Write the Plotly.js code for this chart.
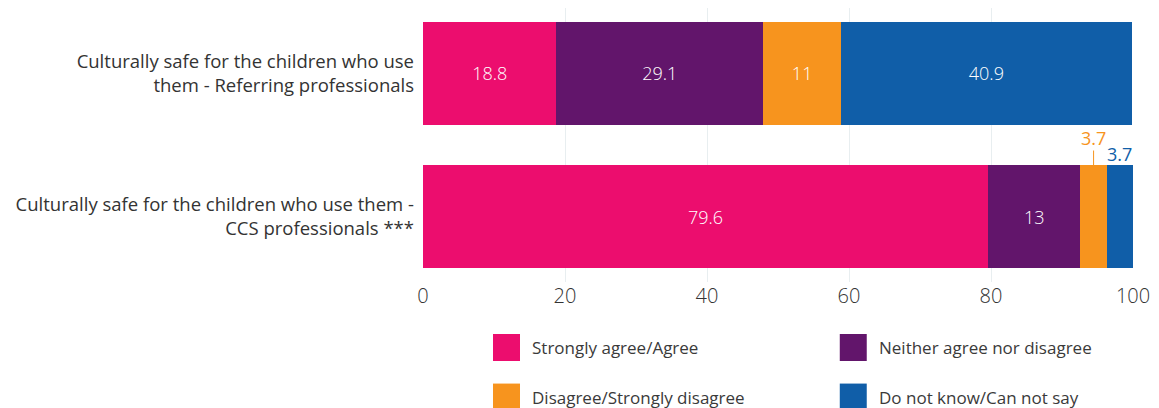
<!DOCTYPE html>
<html>
<head>
<meta charset="utf-8">
<script src="https://cdn.plot.ly/plotly-3.0.1.min.js"></script>
<style>html,body{margin:0;padding:0;background:#fff;}#chart{width:1159px;height:408px;}</style>
</head>
<body>
<div id="chart"></div>
<script>
const categories = [
  "Culturally safe for the children who use<br>them - Referring professionals",
  "Culturally safe for the children who use them -<br>CCS professionals ***"
];
const seriesNames = ["Strongly agree/Agree", "Neither agree nor disagree", "Disagree/Strongly disagree", "Do not know/Can not say"];
const seriesColors = ["#EC0D6E", "#62156B", "#F7941E", "#105EA8"];
const agreeValues = [18.8, 79.6];
const neitherValues = [29.1, 13];
const disagreeValues = [11, 3.7];
const dontKnowValues = [40.9, 3.7];
const xTicks = [0, 20, 40, 60, 80, 100];

const allValues = [agreeValues, neitherValues, disagreeValues, dontKnowValues];
const FONT = "Open Sans, Lato, sans-serif";
const BARWIDTH = 0.72;
const SMALL = 5; // segments narrower than this get an outside label

const traces = allValues.map((vals, i) => ({
  type: "bar",
  orientation: "h",
  name: seriesNames[i],
  y: categories,
  x: vals,
  width: BARWIDTH,
  marker: {color: seriesColors[i]},
  text: vals.map(v => v < SMALL ? "" : String(v)),
  textposition: "inside",
  insidetextanchor: "middle",
  textangle: 0,
  textfont: {family: FONT, size: 18, color: "#ffffff", weight: 300},
  hoverinfo: "x+name",
  showlegend: false
}));

// outside labels for small segments with leader lines
const annotations = [];
const offsets = [-27, -11];
let smallCount = 0;
categories.forEach((cat, ci) => {
  let cum = 0;
  allValues.forEach((vals, si) => {
    const v = vals[ci];
    if (v < SMALL) {
      annotations.push({
        x: cum + v / 2, y: ci - BARWIDTH / 2, xref: "x", yref: "y",
        text: String(v), showarrow: true, arrowhead: 0, arrowwidth: 1,
        arrowcolor: seriesColors[si], ax: 0, ay: offsets[smallCount % offsets.length],
        font: {family: FONT, size: 18, color: seriesColors[si], weight: 400},
        xanchor: "center", yanchor: "middle", borderpad: 0
      });
      smallCount++;
    }
    cum += v;
  });
});

// custom legend (2 x 2)
const shapes = [];
const legCols = [0.0986, 0.587];
const legRows = [-0.239, -0.42];
const swW = 0.038, swH = 0.0493, txtOff = 0.0524;
seriesNames.forEach((n, i) => {
  const col = i % 2, row = Math.floor(i / 2);
  const x0 = legCols[col], yc = legRows[row];
  shapes.push({type: "rect", xref: "paper", yref: "paper",
    x0: x0, x1: x0 + swW, y0: yc - swH, y1: yc + swH,
    line: {width: 0}, fillcolor: seriesColors[i]});
  annotations.push({xref: "paper", yref: "paper", x: x0 + txtOff, y: yc,
    xanchor: "left", yanchor: "middle", showarrow: false, text: n,
    font: {family: FONT, size: 17, color: "#3a3a3a", weight: 400}});
});

const layout = {
  width: 1159, height: 408,
  margin: {l: 423, r: 26, t: 8, b: 126},
  paper_bgcolor: "#ffffff", plot_bgcolor: "#ffffff",
  barmode: "stack",
  showlegend: false,
  font: {family: FONT, color: "#3a3a3a"},
  xaxis: {
    range: [0, 100], tickvals: xTicks, ticktext: xTicks.map(String),
    showgrid: true, gridcolor: "#e8eef0", gridwidth: 1,
    zeroline: false, showline: false, ticks: "",
    tickfont: {family: FONT, size: 20, color: "#333333", weight: 300},
    fixedrange: true
  },
  yaxis: {
    type: "category", categoryorder: "array", categoryarray: categories,
    range: [1.458, -0.458],
    showgrid: false, zeroline: false, showline: false, ticks: "",
    ticklabelstandoff: 8,
    tickfont: {family: FONT, size: 18.5, color: "#333333", weight: 400},
    fixedrange: true
  },
  annotations: annotations,
  shapes: shapes
};

Plotly.newPlot("chart", traces, layout, {displayModeBar: false, staticPlot: true});
</script>
</body>
</html>
